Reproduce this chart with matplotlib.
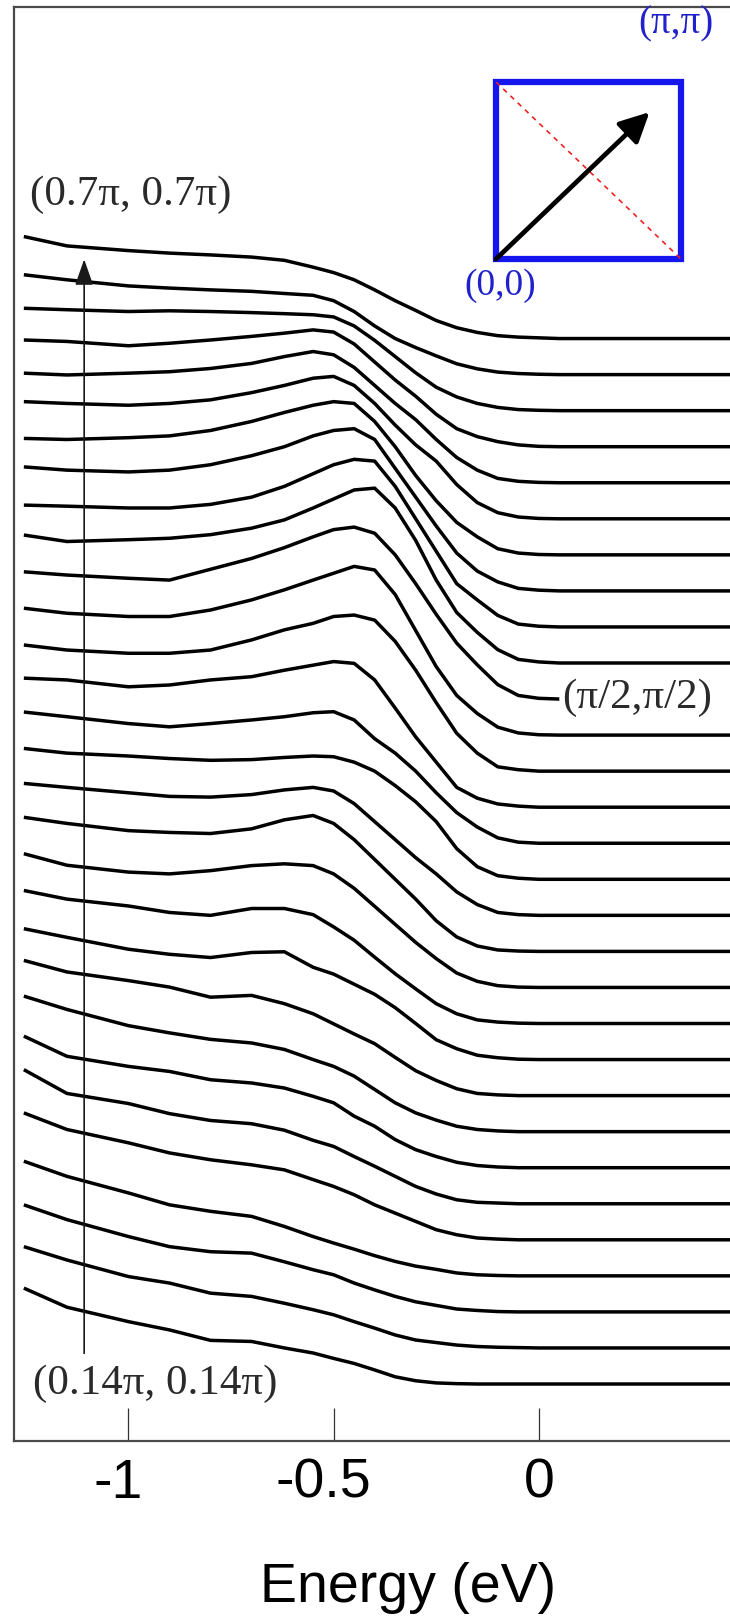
import matplotlib
matplotlib.use("Agg")
import matplotlib.pyplot as plt
from matplotlib.patches import Rectangle
from matplotlib.transforms import ScaledTranslation

plt.rcParams['font.family'] = ['Liberation Sans', 'DejaVu Sans']
plt.rcParams['axes.unicode_minus'] = False

################################################################
# data: energy grid (eV) and EDC intensities (units of the stacking offset)
energy = [-1.255, -1.15, -1.0, -0.9, -0.8, -0.7, -0.62, -0.55, -0.5, -0.45, -0.4,
          -0.35, -0.3, -0.25, -0.2, -0.15, -0.1, -0.05, 0.0, 0.05, 0.47]

edc_00 = [2.66, 2.13, 1.73, 1.50, 1.21, 1.18, 1.00, 0.86, 0.71, 0.57, 0.39, 0.20, 0.09, 0.03, 0.01, 0, 0, 0, 0, 0, 0]
edc_01 = [2.81, 2.44, 1.98, 1.80, 1.52, 1.43, 1.24, 1.06, 0.92, 0.73, 0.55, 0.36, 0.22, 0.15, 0.08, 0.04, 0.02, 0.01, 0, 0, 0]
edc_02 = [2.97, 2.56, 2.09, 1.81, 1.67, 1.63, 1.39, 1.17, 1.03, 0.80, 0.61, 0.43, 0.28, 0.18, 0.08, 0.04, 0.01, 0, 0, 0, 0]
edc_03 = [3.18, 2.76, 2.30, 1.97, 1.79, 1.65, 1.37, 1.09, 0.91, 0.74, 0.56, 0.40, 0.27, 0.18, 0.08, 0.03, 0.01, 0, 0, 0, 0]
edc_04 = [3.52, 3.06, 2.69, 2.41, 2.22, 2.08, 1.94, 1.67, 1.48, 1.25, 0.97, 0.74, 0.51, 0.28, 0.14, 0.05, 0.02, 0, 0, 0, 0]
edc_05 = [3.72, 3.06, 2.78, 2.50, 2.31, 2.22, 2.04, 1.76, 1.59, 1.31, 1.04, 0.76, 0.48, 0.27, 0.11, 0.04, 0.02, 0, 0, 0, 0]
edc_06 = [3.65, 3.09, 2.81, 2.67, 2.44, 2.35, 2.21, 1.98, 1.80, 1.43, 1.15, 0.78, 0.50, 0.31, 0.15, 0.06, 0.02, 0, 0, 0, 0]
edc_07 = [3.76, 3.39, 2.94, 2.74, 2.56, 2.46, 2.28, 2.00, 1.81, 1.54, 1.17, 0.80, 0.52, 0.32, 0.15, 0.06, 0.02, 0, 0, 0, 0]
edc_08 = [3.75, 3.43, 3.19, 3.01, 2.73, 2.78, 2.55, 2.27, 1.99, 1.71, 1.44, 1.06, 0.69, 0.42, 0.19, 0.06, 0.02, 0, 0, 0, 0]
edc_09 = [3.63, 3.39, 3.06, 2.92, 2.83, 2.97, 2.99, 2.56, 2.37, 2.09, 1.81, 1.44, 1.00, 0.55, 0.30, 0.12, 0.05, 0.01, 0, 0, 0]
edc_10 = [3.69, 3.45, 3.26, 3.08, 3.00, 3.19, 3.19, 3.02, 2.68, 2.31, 1.84, 1.38, 0.96, 0.55, 0.27, 0.10, 0.04, 0.01, 0, 0, 0]
edc_11 = [3.71, 3.39, 3.20, 3.15, 3.24, 3.38, 3.43, 3.38, 3.15, 2.75, 2.25, 1.75, 1.25, 0.80, 0.40, 0.17, 0.05, 0.01, 0, 0, 0]
edc_12 = [3.72, 3.55, 3.35, 3.30, 3.27, 3.40, 3.65, 3.77, 3.55, 3.10, 2.55, 2.00, 1.45, 0.85, 0.40, 0.15, 0.04, 0.01, 0, 0, 0]
edc_13 = [3.66, 3.55, 3.40, 3.30, 3.28, 3.35, 3.48, 3.55, 3.45, 3.10, 2.60, 2.10, 1.60, 1.15, 0.65, 0.30, 0.08, 0.02, 0, 0, 0]
edc_14 = [3.63, 3.50, 3.42, 3.35, 3.30, 3.32, 3.38, 3.42, 3.40, 3.25, 3.00, 2.60, 2.15, 1.60, 0.85, 0.35, 0.10, 0.03, 0, 0, 0]
edc_15 = [3.64, 3.51, 3.32, 3.23, 3.32, 3.42, 3.51, 3.62, 3.65, 3.42, 2.90, 2.50, 2.00, 1.40, 0.85, 0.45, 0.15, 0.03, 0, 0, 0]
edc_16 = [3.58, 3.53, 3.34, 3.39, 3.53, 3.62, 3.80, 3.94, 4.04, 3.99, 3.53, 2.75, 1.95, 1.25, 0.55, 0.25, 0.09, 0.03, 0, 0, 0]
edc_17 = [3.50, 3.36, 3.27, 3.27, 3.36, 3.64, 3.92, 4.10, 4.29, 4.33, 4.19, 3.60, 2.80, 1.90, 1.05, 0.50, 0.12, 0.04, 0, 0, 0]
edc_18 = [3.52, 3.38, 3.29, 3.29, 3.47, 3.75, 4.03, 4.30, 4.49, 4.68, 4.58, 3.90, 2.90, 1.90, 1.10, 0.60, 0.22, 0.06, 0.01, 0, 0]
edc_19 = [3.53, 3.44, 3.35, 3.30, 3.60, 3.90, 4.20, 4.50, 4.70, 4.77, 4.60, 4.00, 3.20, 2.35, 1.55, 0.95, 0.40, 0.10, 0.02, 0, 0]
edc_20 = [3.55, 3.37, 3.42, 3.46, 3.56, 3.74, 3.97, 4.30, 4.55, 4.80, 4.85, 4.30, 3.40, 2.30, 1.40, 0.85, 0.37, 0.10, 0.03, 0, 0]
edc_21 = [3.38, 3.35, 3.30, 3.30, 3.40, 3.60, 3.90, 4.25, 4.50, 4.65, 4.60, 3.90, 3.00, 2.10, 1.20, 0.75, 0.32, 0.08, 0.02, 0, 0]
edc_22 = [3.44, 3.35, 3.30, 3.35, 3.50, 3.75, 4.00, 4.30, 4.45, 4.50, 4.20, 3.40, 2.60, 1.80, 1.05, 0.55, 0.25, 0.07, 0.02, 0, 0]
edc_23 = [3.23, 3.20, 3.25, 3.30, 3.45, 3.70, 3.95, 4.15, 4.25, 4.20, 3.70, 3.00, 2.20, 1.50, 0.90, 0.50, 0.17, 0.05, 0.01, 0, 0]
edc_24 = [3.25, 3.20, 3.15, 3.20, 3.30, 3.50, 3.70, 3.90, 3.95, 3.70, 3.20, 2.60, 2.05, 1.60, 0.95, 0.45, 0.17, 0.05, 0.01, 0, 0]
edc_25 = [3.04, 2.99, 3.04, 3.08, 3.17, 3.31, 3.50, 3.64, 3.55, 3.20, 2.70, 2.20, 1.75, 1.20, 0.70, 0.35, 0.12, 0.04, 0.01, 0, 0]
edc_26 = [2.96, 2.92, 2.80, 2.87, 2.96, 3.06, 3.15, 3.24, 3.18, 2.85, 2.35, 1.85, 1.40, 0.90, 0.50, 0.28, 0.14, 0.05, 0.01, 0, 0]
edc_27 = [2.84, 2.80, 2.75, 2.77, 2.75, 2.72, 2.69, 2.66, 2.60, 2.35, 1.95, 1.50, 1.05, 0.65, 0.38, 0.20, 0.09, 0.03, 0.01, 0, 0]
edc_28 = [2.77, 2.63, 2.46, 2.40, 2.35, 2.31, 2.25, 2.20, 2.05, 1.75, 1.35, 1.00, 0.75, 0.52, 0.30, 0.16, 0.07, 0.03, 0.01, 0, 0]
edc_29 = [2.83, 2.57, 2.44, 2.37, 2.32, 2.26, 2.17, 1.98, 1.83, 1.63, 1.35, 1.05, 0.78, 0.50, 0.30, 0.17, 0.08, 0.04, 0.02, 0, 0]

xtick_values = [-1, -0.5, 0]
xtick_labels = ['-1', '-0.5', '0']
label_bottom = '(0.14\u03c0, 0.14\u03c0)'
label_top = '(0.7\u03c0, 0.7\u03c0)'
label_node = '(\u03c0/2,\u03c0/2)'
node_index = 19
node_cut = 0.05

curves = [edc_00, edc_01, edc_02, edc_03, edc_04, edc_05, edc_06, edc_07, edc_08, edc_09,
          edc_10, edc_11, edc_12, edc_13, edc_14, edc_15, edc_16, edc_17, edc_18, edc_19,
          edc_20, edc_21, edc_22, edc_23, edc_24, edc_25, edc_26, edc_27, edc_28, edc_29]

################################################################
# figure
W, H = 730, 1616
fig = plt.figure(figsize=(W / 100, H / 100), dpi=100)
ax = fig.add_axes([14 / W, 1 - 1441 / H, 1 - 14 / W, (1441 - 7) / H])

for i, curve in enumerate(curves):
    xs, ys = energy, [v + i for v in curve]
    if i == node_index:
        keep = [k for k, e in enumerate(energy) if e <= node_cut]
        xs = [energy[k] for k in keep]
        ys = [ys[k] for k in keep]
    ax.plot(xs, ys, color='black', lw=2.5, solid_joinstyle='round', solid_capstyle='butt')

ax.set_xlim(-1.279, 0.466)
ax.set_ylim(-1.581, 38.197)

for side in ['left', 'top', 'bottom']:
    ax.spines[side].set_color('#4a4a4a')
    ax.spines[side].set_linewidth(1.6)
ax.spines['right'].set_visible(False)

ax.set_yticks([])
ax.set_xticks(xtick_values)
ax.set_xticklabels(xtick_labels)
ax.tick_params(axis='x', direction='in', length=24, width=0.9, color='#333333',
               labelsize=40, pad=12)
for lab in ax.get_xticklabels():
    if lab.get_text().startswith('-'):
        lab.set_transform(lab.get_transform() + ScaledTranslation(-10 / 100, 0, fig.dpi_scale_trans))

fig.text(408 / W, 1 - 1602 / H, 'Energy (eV)', ha='center', va='baseline', fontsize=40)

# momentum labels
serif = ['Liberation Serif', 'DejaVu Serif']
ax.text(-1.240, 33.0, label_top, family=serif, fontsize=31, color='#2a2a2a', ha='left', va='center')
ax.text(-1.233, 0.0, label_bottom, family=serif, fontsize=31, color='#2a2a2a', ha='left', va='center')
ax.text(0.057, node_index + 0.05, label_node, family=serif, fontsize=31, color='#2a2a2a',
        ha='left', va='center')

# k-path arrow
ax.annotate('', xy=(-1.108, 31.2), xytext=(-1.108, 0.85),
            arrowprops=dict(arrowstyle='-|>,head_length=0.8,head_width=0.28', lw=1.2,
                            color='#1a1a1a', mutation_scale=20, shrinkA=0, shrinkB=0))

# Brillouin zone inset
ins = fig.add_axes([496 / W, 1 - 259 / H, 185 / W, 177 / H])
ins.set_xlim(0, 1)
ins.set_ylim(0, 1)
ins.axis('off')
ins.add_patch(Rectangle((0, 0), 1, 1, fill=False, edgecolor='#1515ee', lw=4.5, clip_on=False))
ins.plot([0, 1], [1, 0], color='#ee2222', lw=1.2, ls=(0, (3, 3)))
ins.annotate('', xy=(0.83, 0.83), xytext=(0, 0),
             arrowprops=dict(arrowstyle='-|>,head_length=0.9,head_width=0.45', lw=3.4,
                             color='black', mutation_scale=20, shrinkA=0, shrinkB=0))
fig.text(676 / W, 1 - 24 / H, '(\u03c0,\u03c0)', family=serif, fontsize=28, color='#2020cc',
         ha='center', va='center')
fig.text(500 / W, 1 - 286 / H, '(0,0)', family=serif, fontsize=27, color='#2020cc',
         ha='center', va='center')

fig.savefig('out.png', dpi=100)
